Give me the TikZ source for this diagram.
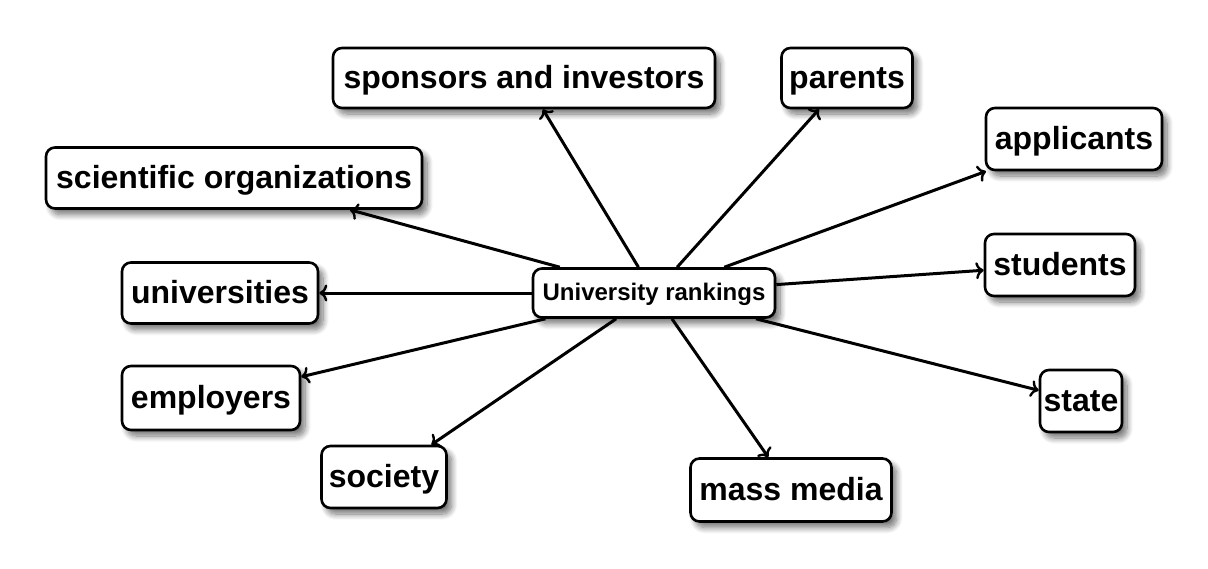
\documentclass[tikz,border=0pt]{standalone}
\usepackage{fontspec}
\setmainfont{Liberation Sans}
\usetikzlibrary{shadows.blur,arrows.meta}
\begin{document}
\begin{tikzpicture}[x=1pt,y=-1pt,
  box/.style={draw=black, line width=2.6pt, rounded corners=9pt, fill=white,
    inner sep=0pt, text height=28pt, text depth=7pt, font=\fontsize{32}{36}\selectfont\bfseries,
    blur shadow={shadow xshift=5pt, shadow yshift=-6pt, shadow blur steps=10, shadow blur radius=6pt, shadow opacity=55}},
  hub/.style={box, text height=20pt, text depth=5pt, font=\fontsize{24}{28}\selectfont\bfseries},
  link/.style={line width=3pt, -{To[length=8pt,width=17pt,line width=2.4pt]}}]
\useasboundingbox (0,0) rectangle (1208,568);
\node[box, minimum width=382pt, minimum height=60pt] (spon) at (524,78) {sponsors and investors};
\node[box, minimum width=131pt, minimum height=60pt] (par) at (847,78) {parents};
\node[box, minimum width=176pt, minimum height=62pt] (app) at (1074,139) {applicants};
\node[box, minimum width=376pt, minimum height=61pt] (sci) at (234,178) {scientific organizations};
\node[box, minimum width=196pt, minimum height=61pt] (uni) at (220,293) {universities};
\node[box, minimum width=150pt, minimum height=62pt] (stu) at (1060,265) {students};
\node[box, minimum width=178pt, minimum height=64pt] (emp) at (211,398) {employers};
\node[box, minimum width=82pt, minimum height=62pt] (sta) at (1081,401) {state};
\node[box, minimum width=125pt, minimum height=62pt] (soc) at (384,477) {society};
\node[box, minimum width=201pt, minimum height=63pt] (mm) at (791,490) {mass media};
\node[hub, minimum width=242pt, minimum height=49pt] (c) at (654,293) {University rankings};
\foreach \t in {spon,par,app,sci,uni,stu,emp,sta,soc,mm}
  \draw[link] (c) -- (\t);
\end{tikzpicture}
\end{document}
